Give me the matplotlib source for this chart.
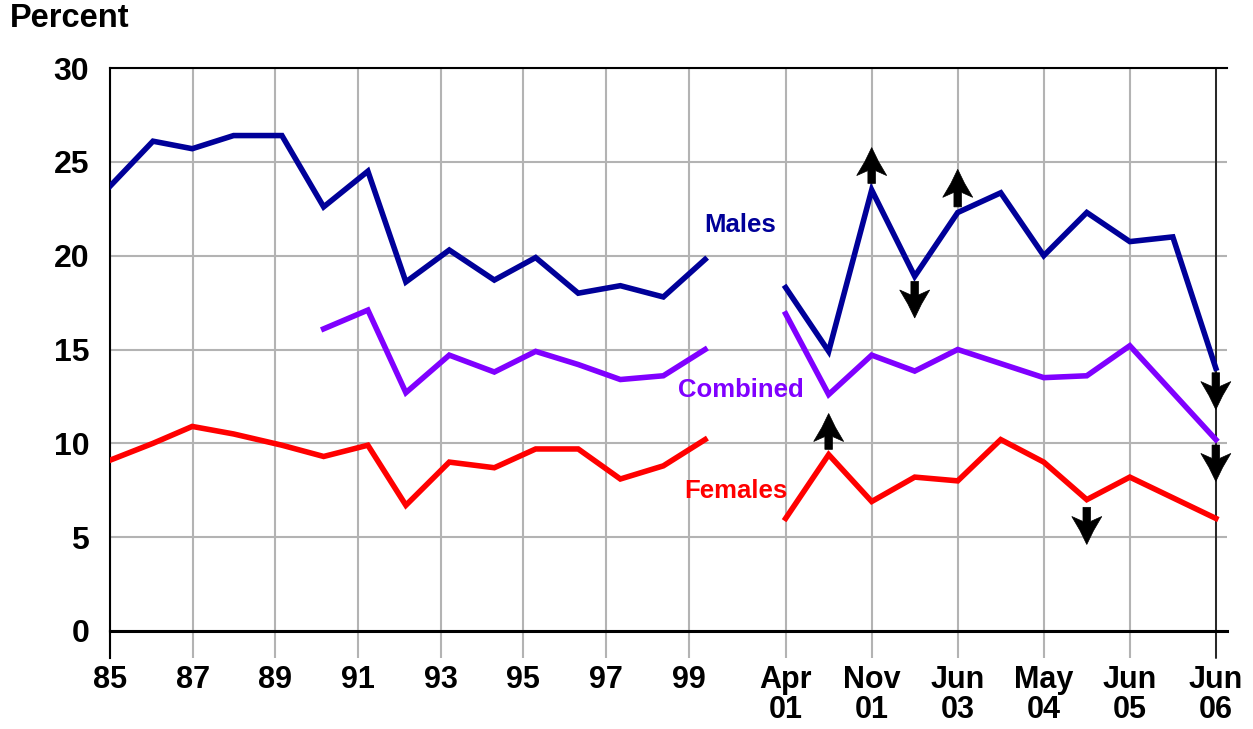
import numpy as np
import matplotlib
matplotlib.use('Agg')
import matplotlib.pyplot as plt
from matplotlib.patches import Polygon
from matplotlib.transforms import IdentityTransform

plt.rcParams['font.family'] = ['Liberation Sans', 'DejaVu Sans']
plt.rcParams['font.weight'] = 'bold'

# 1985-1999 surveys (decimal year, 85 = 1985)
left_years = [85.0, 86.04, 86.99, 87.99, 89.16, 90.17, 91.24, 92.16,
              93.21, 94.30, 95.30, 96.33, 97.35, 98.39, 99.40]
males_left = [23.7, 26.1, 25.7, 26.4, 26.4, 22.6, 24.5, 18.6,
              20.3, 18.7, 19.9, 18.0, 18.4, 17.8, 19.8]
combined_left_years = left_years[5:]
combined_left = [16.1, 17.1, 12.7, 14.7, 13.8, 14.9, 14.2, 13.4, 13.6, 15.0]
females_left = [9.1, 10.0, 10.9, 10.5, 9.9, 9.3, 9.9, 6.7,
                9.0, 8.7, 9.7, 9.7, 8.1, 8.8, 10.2]

# 2001-2006 surveys, evenly spaced categories
males_right_idx = [0, 1, 2, 3, 4, 5, 6, 7, 8, 9, 10]
males_right = [18.3, 14.9, 23.5, 18.9, 22.3, 23.35, 20.0, 22.3, 20.75, 21.0, 14.0]
combined_right_idx = [0, 1, 2, 3, 4, 6, 7, 8, 10]
combined_right = [16.9, 12.6, 14.7, 13.85, 15.0, 13.5, 13.6, 15.2, 10.2]
females_right_idx = [0, 1, 2, 3, 4, 5, 6, 7, 8, 10]
females_right = [6.0, 9.4, 6.9, 8.2, 8.0, 10.2, 9.0, 7.0, 8.2, 6.0]

right_labels = ['Apr\n01', 'Nov\n01', 'Jun\n03', 'May\n04', 'Jun\n05', 'Jun\n06']
left_labels = ['85', '87', '89', '91', '93', '95', '97', '99']

# significant-change arrows: (category index, tail value, tip value)
arrow_idx = [2, 3, 4, 10, 1, 10, 7]
arrow_tail = [23.85, 18.63, 22.6, 13.76, 9.68, 9.91, 6.59]
arrow_tip = [25.76, 16.68, 24.6, 11.8, 11.59, 7.97, 4.61]

RIGHT_START = 101.35
RIGHT_STEP = 1.041


def rx(idx):
    return RIGHT_START + np.asarray(idx) * RIGHT_STEP


MALE = '#000099'
COMB = '#8000ff'
FEM = '#ff0000'
GRID = '#b3b3b3'

fig = plt.figure(figsize=(12.53, 7.29), dpi=100)
ax = fig.add_axes([110 / 1253, 1 - 631 / 729, (1227 - 110) / 1253, (631 - 68) / 729])

lw = 4.0
ax.plot(left_years, males_left, color=MALE, lw=lw, solid_joinstyle='miter', zorder=4)
ax.plot(combined_left_years, combined_left, color=COMB, lw=lw, solid_joinstyle='miter', zorder=4)
ax.plot(left_years, females_left, color=FEM, lw=lw, solid_joinstyle='miter', zorder=4)
ax.plot(rx(males_right_idx), males_right, color=MALE, lw=lw, solid_joinstyle='miter', zorder=4)
ax.plot(rx(combined_right_idx), combined_right, color=COMB, lw=lw, solid_joinstyle='miter', zorder=4)
ax.plot(rx(females_right_idx), females_right, color=FEM, lw=lw, solid_joinstyle='miter', zorder=4)

ax.text(100.26, 21.64, 'Males', color=MALE, fontsize=18.5, ha='center', va='center')
ax.text(100.26, 12.85, 'Combined', color=COMB, fontsize=18.5, ha='center', va='center')
ax.text(100.15, 7.46, 'Females', color=FEM, fontsize=18.5, ha='center', va='center')

ax.set_ylim(0, 30)
ax.set_xlim(85, RIGHT_START + 10 * RIGHT_STEP + 0.27)
ax.set_yticks(np.arange(0, 31, 5))

xt = list(np.arange(85, 100, 2)) + list(rx(np.arange(0, 11, 2)))
ax.set_xticks(xt)
ax.set_xticklabels(left_labels + right_labels, fontsize=22, fontweight='bold', linespacing=1.0)
for lab in ax.get_yticklabels():
    lab.set_fontsize(23)
    lab.set_fontweight('bold')

ax.grid(True, color=GRID, lw=1.5, zorder=0)
ax.set_axisbelow(True)
ax.tick_params(axis='x', length=19.4, width=1.5, color=GRID, pad=5, direction='out')
ax.tick_params(axis='y', length=0, pad=15)

ax.spines['right'].set_visible(False)
ax.spines['left'].set_linewidth(1.5)
ax.spines['top'].set_linewidth(1.5)
ax.spines['bottom'].set_linewidth(2.2)
ax.spines['bottom'].set_zorder(3)

# black tick-lines at the first and last period
ax.axvline(85, ymin=-0.048, ymax=0, color='black', lw=1.5, clip_on=False)
ax.axvline(rx(10), ymin=-0.048, ymax=1, color='black', lw=1.1, clip_on=False, zorder=3)

# barbed arrows, shape in pixels (tip at 0, measured towards the tail)
half_w, barb, notch, shaft_w, mid_w = 15, 28, 23, 3.8, 6.8
for i, t0, t1 in zip(arrow_idx, arrow_tail, arrow_tip):
    x = float(rx(i))
    px, ptail = ax.transData.transform((x, t0))
    _, ptip = ax.transData.transform((x, t1))
    s = 1 if ptip > ptail else -1  # direction of the tip
    shape = [(0, 0), (mid_w, 14), (half_w, barb), (shaft_w, notch),
             (shaft_w, abs(ptip - ptail)), (-shaft_w, abs(ptip - ptail)),
             (-shaft_w, notch), (-half_w, barb), (-mid_w, 14)]
    pts = [(px + dx, ptip - s * dy) for dx, dy in shape]
    ax.add_patch(Polygon(pts, closed=True, facecolor='black', edgecolor='black',
                         lw=0.5, transform=IdentityTransform(), zorder=5, clip_on=False))

fig.text(10 / 1253, 1 - 3 / 729, 'Percent', fontsize=23.5, fontweight='bold', ha='left', va='top')

fig.savefig('out.png', dpi=100)
